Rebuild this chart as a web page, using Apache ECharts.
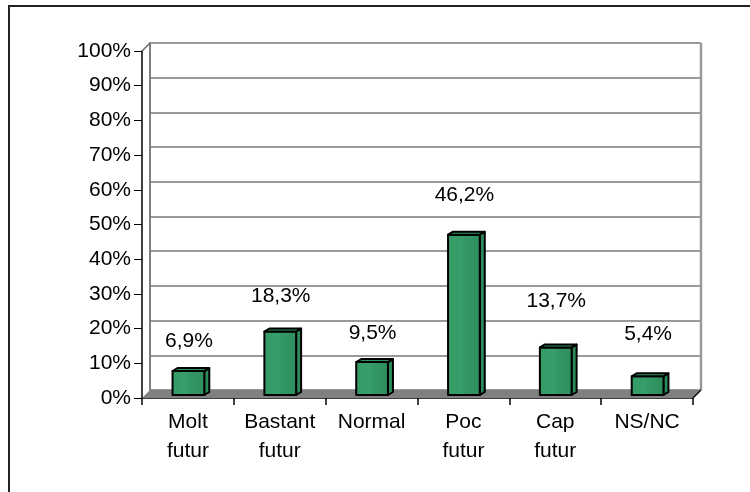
<!DOCTYPE html>
<html>
<head>
<meta charset="utf-8">
<script src="https://cdn.jsdelivr.net/npm/echarts@6.0.0/dist/echarts.min.js"></script>
<style>
  html, body { margin: 0; padding: 0; background: #fff; }
  #chart { width: 750px; height: 492px; }
</style>
</head>
<body>
<div id="chart"></div>
<script>
// data
const categories = ['Molt\nfutur', 'Bastant\nfutur', 'Normal', 'Poc\nfutur', 'Cap\nfutur', 'NS/NC'];
const values = [6.9, 18.3, 9.5, 46.2, 13.7, 5.4];
const yTicks = [0, 10, 20, 30, 40, 50, 60, 70, 80, 90, 100];

// layout of the fake 3D box (front plane vs back wall)
const front = { left: 142, right: 57, top: 51, bottom: 94 };
const depth = 8;
const labelLift = [30, 35, 29, 39, 46, 42];
const W = 750, H = 492;
const FONT = 'Liberation Sans, Arial, sans-serif';
const FS = 21;

const chart = echarts.init(document.getElementById('chart'));

const fx0 = front.left, fx1 = W - front.right, fy1 = H - front.bottom;

const option = {
  animation: false,
  grid: [
    { left: front.left, right: front.right, top: front.top, bottom: front.bottom },
    { left: front.left + depth, right: front.right - depth, top: front.top - depth, bottom: front.bottom + depth }
  ],
  xAxis: [
    {
      gridIndex: 0, type: 'category', data: categories,
      axisLine: { lineStyle: { color: '#000', width: 1.5 } },
      axisTick: { show: true, interval: 0, length: 7, lineStyle: { color: '#000', width: 1.5 } },
      axisLabel: { interval: 0, hideOverlap: false, color: '#000', fontSize: FS, fontFamily: FONT, lineHeight: 29, margin: 10 }
    },
    {
      gridIndex: 1, type: 'category', data: categories,
      axisLine: { show: false }, axisTick: { show: false }, axisLabel: { show: false }
    }
  ],
  yAxis: [
    {
      gridIndex: 0, type: 'value', min: 0, max: 100, interval: 10,
      axisLine: { show: true, lineStyle: { color: '#000', width: 1.5 } },
      axisTick: { show: true, length: 8, lineStyle: { color: '#000', width: 1 } },
      axisLabel: { color: '#000', fontSize: FS, fontFamily: FONT, margin: 11,
        formatter: v => (yTicks.indexOf(v) >= 0 ? v + '%' : '') },
      splitLine: { show: false }
    },
    {
      gridIndex: 1, type: 'value', min: 0, max: 100, interval: 10,
      axisLine: { show: true, lineStyle: { color: '#808080', width: 2 } },
      axisTick: { show: false }, axisLabel: { show: false },
      splitLine: { show: true, lineStyle: { color: '#777', width: 1.5 } }
    }
  ],
  graphic: [
    // outer frame
    { type: 'rect', shape: { x: 9, y: 6, width: 800, height: 600 },
      style: { fill: 'none', stroke: '#222', lineWidth: 2 }, z: 0 },
    // back wall right edge
    { type: 'line', shape: { x1: fx1 + depth, y1: front.top - depth, x2: fx1 + depth, y2: fy1 - depth },
      style: { stroke: '#999', lineWidth: 2.5 }, z: 5 },
    // floor
    { type: 'polygon', shape: { points: [[fx0, fy1], [fx1, fy1], [fx1 + depth, fy1 - depth], [fx0 + depth, fy1 - depth]] },
      style: { fill: '#808080' }, z: 5 },
    // side wall edges
    { type: 'line', shape: { x1: fx0, y1: front.top, x2: fx0 + depth, y2: front.top - depth },
      style: { stroke: '#666', lineWidth: 1.5 }, z: 5 },
    { type: 'line', shape: { x1: fx1, y1: fy1, x2: fx1 + depth, y2: fy1 - depth },
      style: { stroke: '#000', lineWidth: 1.2 }, z: 5 }
  ],
  series: [{
    type: 'custom',
    xAxisIndex: 0, yAxisIndex: 0,
    data: values.map((v, i) => [i, v]),
    z: 10,
    renderItem: function (params, api) {
      const i = api.value(0);
      const top = api.coord([i, api.value(1)]);
      const base = api.coord([i, 0]);
      const w = api.size([1, 0])[0] * 0.40;
      const sy = -3, dx = 5, dy = 3;
      const l = top[0] - w / 2 + 3, r = l + w - dx;
      const t = top[1] + sy, b = base[1] + sy;
      const edge = { stroke: '#000', lineWidth: 2, lineJoin: 'round' };
      return {
        type: 'group',
        children: [
          { type: 'polygon', shape: { points: [[r, t], [r + dx, t - dy], [r + dx, b - dy], [r, b]] },
            style: Object.assign({ fill: '#2d8a5a' }, edge) },
          { type: 'rect', shape: { x: l, y: t, width: r - l, height: b - t },
            style: Object.assign({
              fill: new echarts.graphic.LinearGradient(0, 0, 1, 0, [
                { offset: 0, color: '#349a66' },
                { offset: 0.45, color: '#389f6b' },
                { offset: 0.5, color: '#339866' },
                { offset: 0.8, color: '#309260' },
                { offset: 1, color: '#2e8c5c' }
              ])
            }, edge) },
          { type: 'polygon', shape: { points: [[l, t], [r, t], [r + dx, t - dy], [l + dx, t - dy]] },
            style: Object.assign({ fill: '#2f915f' }, edge) },
          { type: 'text',
            style: { text: String(api.value(1)).replace('.', ',') + '%', x: top[0] + 1, y: t - labelLift[i],
              align: 'center', verticalAlign: 'middle', fontSize: FS, fontFamily: FONT, fill: '#000' } }
        ]
      };
    }
  }]
};

chart.setOption(option);
</script>
</body>
</html>
